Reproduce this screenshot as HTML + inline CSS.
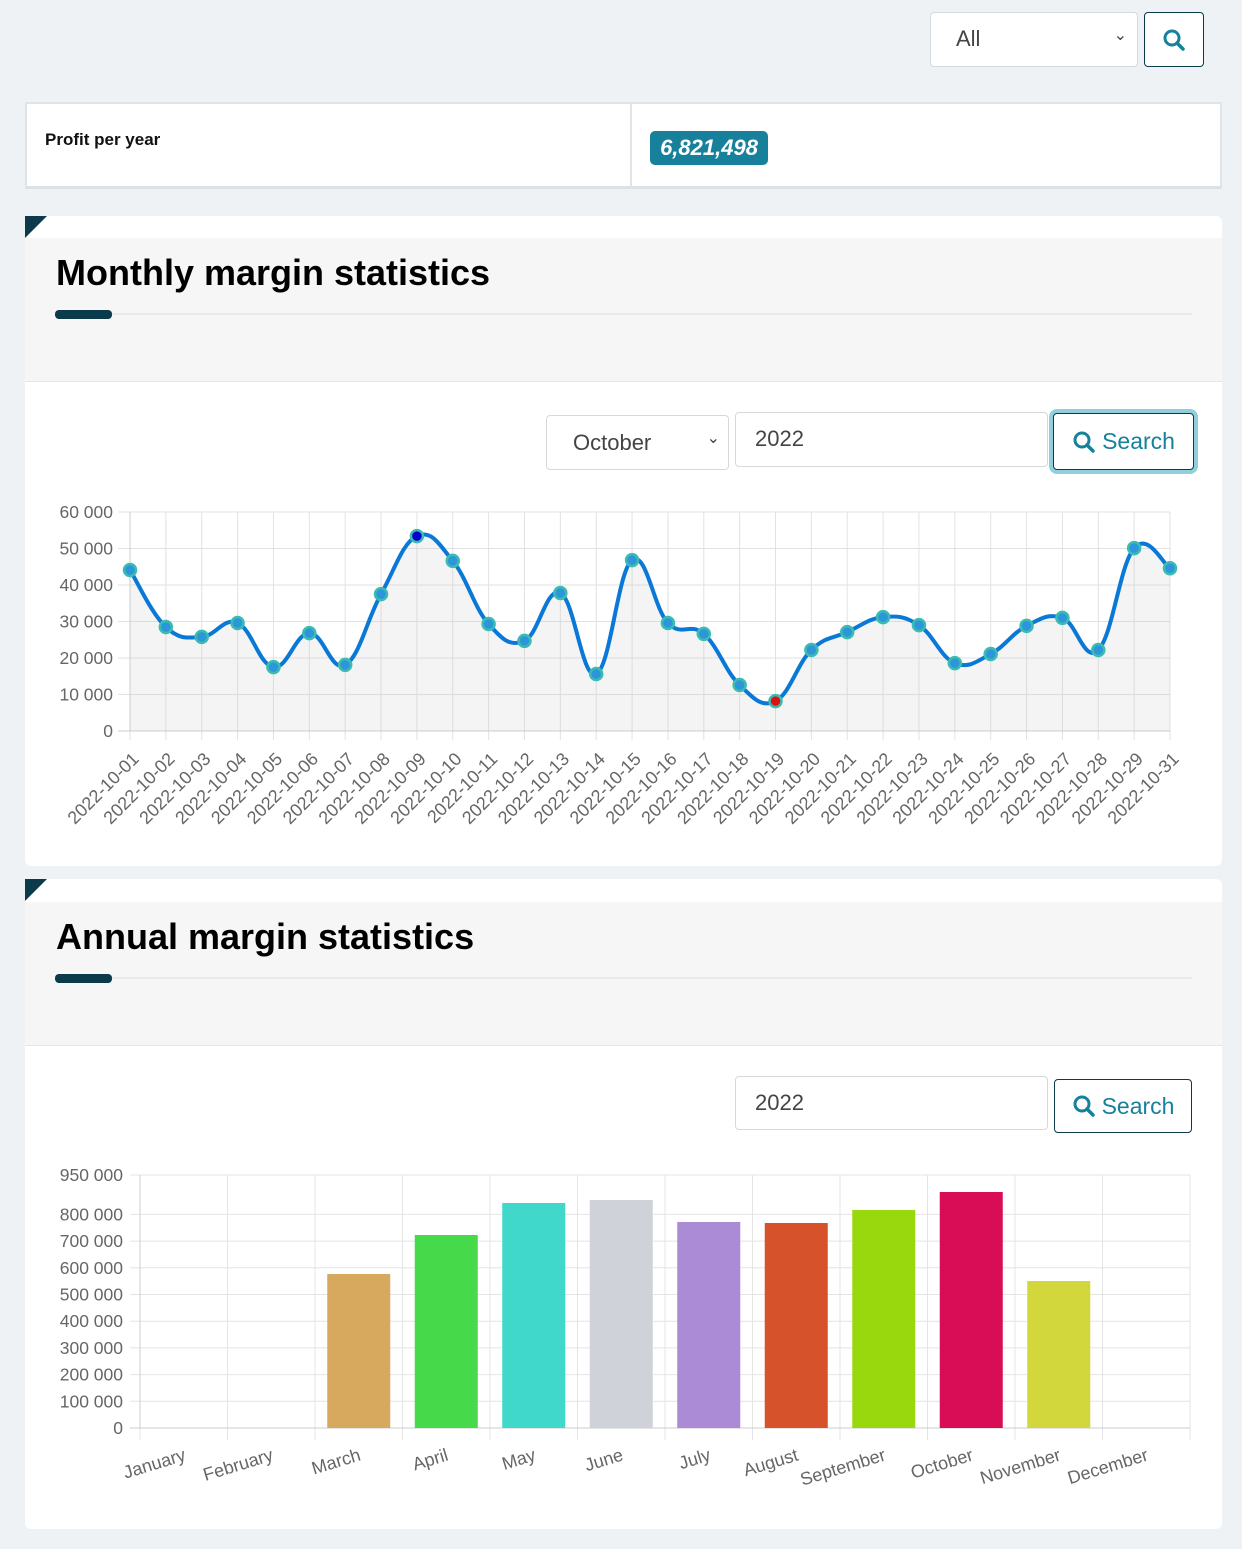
<!DOCTYPE html>
<html><head><meta charset="utf-8"><style>
*{box-sizing:border-box}
body{margin:0;width:1242px;height:1549px;background:#eef2f5;font-family:"Liberation Sans",sans-serif;position:relative;overflow:hidden}
.abs{position:absolute}
.sel{border:1px solid #d5d8dc;border-radius:4px;background:#fff;color:#444;font-size:22px}
.card{position:absolute;left:25px;width:1197px;background:#fff;border-radius:6px}
.hd{position:absolute;left:0;right:0;background:#f6f6f6;border-bottom:1px solid #e6e6e6}
.tri{position:absolute;left:0;top:0;width:0;height:0;border-top:22px solid #0b3a4a;border-right:22px solid transparent}
.ttl{position:absolute;left:31px;font-size:36px;font-weight:bold;color:#000}
.bar{position:absolute;left:30px;width:57px;height:9px;background:#0b3a4a;border-radius:4px}
.line{position:absolute;left:87px;right:30px;height:2px;background:#e9e9e9}
.btn{border:1.5px solid #0b3a4a;border-radius:4px;background:#fff;color:#17809a;font-size:23px;display:flex;align-items:center;justify-content:center;gap:6px}
</style></head><body>
<div class="abs sel" style="left:930px;top:12px;width:208px;height:55px;padding:13px 0 0 25px">All<span style="position:absolute;right:10px;top:12px;font-size:16px">&#8964;</span></div>
<div class="abs btn" style="left:1144px;top:12px;width:60px;height:55px"><svg width="24" height="24" viewBox="0 0 24 24"><circle cx="10" cy="10" r="7" fill="none" stroke="#17809a" stroke-width="3"/><line x1="15" y1="15" x2="21" y2="21" stroke="#17809a" stroke-width="3.5" stroke-linecap="round"/></svg></div>
<div class="abs" style="left:25px;top:102px;width:1197px;height:87px;background:#fff;border:2px solid #e1e4e7;border-bottom:3px solid #dde1e4"></div>
<div class="abs" style="left:630px;top:103px;width:2px;height:84px;background:#e1e4e7"></div>
<div class="abs" style="left:45px;top:130px;font-size:17px;font-weight:bold;color:#111">Profit per year</div>
<div class="abs" style="left:650px;top:131px;width:118px;height:34px;background:#17809a;border-radius:5px;color:#fff;font-size:22px;font-weight:bold;font-style:italic;text-align:center;line-height:34px">6,821,498</div>

<div class="card" style="top:216px;height:650px">
 <div class="hd" style="top:22px;height:144px"></div><div class="tri"></div>
 <div class="ttl" style="top:36px">Monthly margin statistics</div>
 <div class="bar" style="top:94px"></div><div class="line" style="top:97px"></div>
 <div class="abs sel" style="left:521px;top:199px;width:183px;height:55px;padding:14px 0 0 26px">October<span style="position:absolute;right:8px;top:12px;font-size:16px">&#8964;</span></div>
 <div class="abs sel" style="left:710px;top:196px;width:313px;height:55px;padding:13px 0 0 19px">2022</div>
 <div class="abs btn" style="left:1028px;top:197px;width:141px;height:57px;box-shadow:0 0 0 4px #8fd0dc"><svg width="24" height="24" viewBox="0 0 24 24"><circle cx="10" cy="10" r="7" fill="none" stroke="#17809a" stroke-width="3"/><line x1="15" y1="15" x2="21" y2="21" stroke="#17809a" stroke-width="3.5" stroke-linecap="round"/></svg>Search</div>
</div>
<div class="card" style="top:879px;height:650px">
 <div class="hd" style="top:23px;height:144px"></div><div class="tri"></div>
 <div class="ttl" style="top:37px">Annual margin statistics</div>
 <div class="bar" style="top:95px"></div><div class="line" style="top:98px"></div>
 <div class="abs sel" style="left:710px;top:197px;width:313px;height:54px;padding:13px 0 0 19px">2022</div>
 <div class="abs btn" style="left:1029px;top:200px;width:138px;height:54px"><svg width="24" height="24" viewBox="0 0 24 24"><circle cx="10" cy="10" r="7" fill="none" stroke="#17809a" stroke-width="3"/><line x1="15" y1="15" x2="21" y2="21" stroke="#17809a" stroke-width="3.5" stroke-linecap="round"/></svg>Search</div>
</div>
<svg id="s" class="abs" style="left:0;top:0" width="1242" height="1549" font-family="Liberation Sans, sans-serif"></svg>
<script>
var s=document.getElementById('s'),h='';
var x0=130,x1=1170,y0=731,k=219/60000;
var v=[44.1,28.5,25.8,29.6,17.5,26.8,18.1,37.5,53.4,46.6,29.3,24.7,37.8,15.6,46.8,29.6,26.6,12.6,8.2,22.2,27.1,31.2,29.0,18.6,21.1,28.8,31.0,22.2,50.1,44.6];
var lab=[];for(var i=1;i<=29;i++)lab.push('2022-10-'+(i<10?'0':'')+i);lab.push('2022-10-31');
var n=30,st=(x1-x0)/29,P=v.map(function(a,i){return[x0+i*st,y0-a*1000*k]});
for(var g=0;g<=6;g++){var y=y0-g*10000*k;h+='<line x1="118" x2="1170" y1="'+y+'" y2="'+y+'" stroke="#e2e2e2"/>';h+='<text x="113" y="'+(y+6)+'" text-anchor="end" font-size="17.5" fill="#666">'+(g?g*10+' 000':'0')+'</text>'}
for(i=0;i<n;i++){var x=P[i][0];h+='<line x1="'+x+'" x2="'+x+'" y1="512" y2="740" stroke="#e2e2e2"/>';h+='<text transform="translate('+(x+10)+',760) rotate(-45)" text-anchor="end" font-size="18" fill="#666">'+lab[i]+'</text>'}
var d='M'+P[0];for(i=0;i<n-1;i++){var p0=P[Math.max(i-1,0)],p1=P[i],p2=P[i+1],p3=P[Math.min(i+2,n-1)];
var c1=[p1[0]+(p2[0]-p0[0])*0.2,p1[1]+(p2[1]-p0[1])*0.2],c2=[p2[0]-(p3[0]-p1[0])*0.2,p2[1]-(p3[1]-p1[1])*0.2];d+=' C'+c1+' '+c2+' '+p2}
h+='<path d="'+d+' L'+x1+','+y0+' L'+x0+','+y0+'Z" fill="rgba(200,200,200,0.2)"/>';
h+='<line x1="130" x2="130" y1="512" y2="731" stroke="#ccc"/><line x1="118" x2="1170" y1="731" y2="731" stroke="#ccc"/>';
h+='<path d="'+d+'" fill="none" stroke="#0a78d6" stroke-width="4"/>';
for(i=0;i<n;i++){var c=i==8?'#0000cc':i==18?'#dd1111':'#2d96db';h+='<circle cx="'+P[i][0]+'" cy="'+P[i][1]+'" r="6" fill="'+c+'" stroke="#3cbcb0" stroke-width="2.5"/>'}
var b0=1428,bk=26.7/100000,bx0=140,bw=(1190-140)/12;
[0,1,2,3,4,5,6,7,8].forEach(function(g){var y=b0-g*100000*bk;h+='<line x1="130" x2="1190" y1="'+y+'" y2="'+y+'" stroke="#e4e4e4"/><text x="123" y="'+(y+6)+'" text-anchor="end" font-size="17.5" fill="#666">'+(g?g+'00 000':'0')+'</text>'});
h+='<line x1="130" x2="1190" y1="1175" y2="1175" stroke="#e4e4e4"/><text x="123" y="1181" text-anchor="end" font-size="17.5" fill="#666">950 000</text>';
for(i=0;i<=12;i++){var x=bx0+i*bw;h+='<line x1="'+x+'" x2="'+x+'" y1="1175" y2="1440" stroke="#e4e4e4"/>'}
h+='<line x1="140" x2="140" y1="1175" y2="1428" stroke="#ccc"/><line x1="130" x2="1190" y1="1428" y2="1428" stroke="#ccc"/>';
var tops=[0,0,1274,1235,1203,1200,1222,1223,1210,1192,1281,0],cols=['','','#d6a95e','#46d94a','#3fd8cb','#cfd2d9','#ab8ad6','#d6522a','#9ad80e','#d80d55','#d2d83b',''];
var ms=['January','February','March','April','May','June','July','August','September','October','November','December'];
for(i=0;i<12;i++){var cx=bx0+bw*(i+0.5);if(tops[i])h+='<rect x="'+(cx-31.5)+'" y="'+tops[i]+'" width="63" height="'+(b0-tops[i])+'" fill="'+cols[i]+'"/>';
h+='<text transform="translate('+(cx+3)+',1460) rotate(-17)" text-anchor="end" font-size="18" fill="#666">'+ms[i]+'</text>'}
s.innerHTML=h;
</script>
</body></html>
